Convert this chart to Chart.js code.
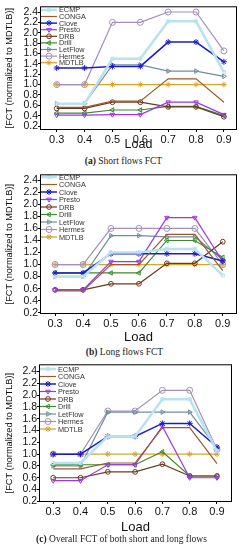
<!DOCTYPE html>
<html>
<head>
<meta charset="utf-8">
<script src="https://cdn.jsdelivr.net/npm/chart.js@4.4.1/dist/chart.umd.min.js"></script>
<style>
body { margin: 0; background: #fff; width: 243px; height: 550px; position: relative; overflow: hidden; }
.box { position: absolute; left: 0; width: 243px; }
.cap { position: absolute; left: 0; width: 243px; text-align: center; font-family: "Liberation Serif", serif; font-size: 9.5px; color: #222; line-height: 11px; }
</style>
</head>
<body>
<div class="box" style="top:0px;height:152px"><canvas id="chartA" width="243" height="152"></canvas></div>
<div class="cap" style="top:156px;left:2px"><b>(a)</b> Short flows FCT</div>
<div class="box" style="top:168px;height:177px"><canvas id="chartB" width="243" height="177"></canvas></div>
<div class="cap" style="top:347px;left:3px"><b>(b)</b> Long flows FCT</div>
<div class="box" style="top:358px;height:177px"><canvas id="chartC" width="243" height="177"></canvas></div>
<div class="cap" style="top:534px"><b>(c)</b> Overall FCT of both short and long flows</div>
<script>
// x categories and y ticks
const loads = [0.3, 0.4, 0.5, 0.6, 0.7, 0.8, 0.9];
const yTicks = [0.2, 0.4, 0.6, 0.8, 1.0, 1.2, 1.4, 1.6, 1.8, 2.0, 2.2, 2.4];
const schemes = ['ECMP', 'CONGA', 'Clove', 'Presto', 'DRB', 'Drill', 'LetFlow', 'Hermes', 'MDTLB'];

// (a) short flows
const ecmpA    = [0.63, 0.63, 1.50, 1.50, 2.22, 2.22, 1.24];
const congaA   = [0.56, 0.56, 0.68, 0.68, 1.11, 1.11, 0.66];
const cloveA   = [1.32, 1.32, 1.35, 1.35, 1.82, 1.82, 1.44];
const prestoA  = [0.41, 0.41, 0.42, 0.42, 0.66, 0.66, 0.42];
const drbA     = [0.54, 0.54, 0.66, 0.66, 0.57, 0.57, 0.38];
const drillA   = [0.45, 0.45, 0.51, 0.51, 0.58, 0.58, 0.40];
const letflowA = [0.63, 0.63, 1.38, 1.38, 1.26, 1.26, 1.16];
const hermesA  = [1.00, 1.00, 2.20, 2.20, 2.40, 2.40, 1.65];
const mdtlbA   = [1.00, 1.00, 1.00, 1.00, 1.00, 1.00, 1.00];

// (b) long flows
const ecmpB    = [0.80, 0.80, 1.20, 1.20, 1.26, 1.26, 0.82];
const congaB   = [0.56, 0.56, 1.00, 1.00, 1.50, 1.50, 0.90];
const cloveB   = [0.86, 0.86, 1.18, 1.18, 1.18, 1.18, 1.06];
const prestoB  = [0.58, 0.58, 1.05, 1.05, 1.78, 1.78, 1.05];
const drbB     = [0.58, 0.58, 0.68, 0.68, 1.02, 1.02, 1.38];
const drillB   = [0.86, 0.86, 0.86, 0.86, 1.40, 1.40, 1.12];
const letflowB = [0.80, 0.80, 1.48, 1.48, 1.46, 1.46, 1.08];
const hermesB  = [1.00, 1.00, 1.60, 1.60, 1.60, 1.60, 1.00];
const mdtlbB   = [1.00, 1.00, 1.00, 1.00, 1.00, 1.00, 1.00];

// (c) overall
const ecmpC    = [0.85, 0.85, 1.30, 1.30, 1.93, 1.93, 1.05];
const congaC   = [0.75, 0.75, 0.85, 0.85, 1.45, 1.45, 0.84];
const cloveC   = [1.00, 1.00, 1.30, 1.30, 1.52, 1.52, 1.12];
const prestoC  = [0.55, 0.55, 0.82, 0.82, 1.47, 0.60, 0.60];
const drbC     = [0.60, 0.60, 0.70, 0.70, 0.83, 0.63, 0.63];
const drillC   = [0.82, 0.82, 0.82, 0.82, 1.04, 0.63, 0.63];
const letflowC = [0.80, 0.80, 1.71, 1.71, 1.71, 1.71, 1.10];
const hermesC  = [1.00, 1.00, 1.73, 1.73, 2.08, 2.08, 1.08];
const mdtlbC   = [1.00, 1.00, 1.00, 1.00, 1.00, 1.00, 1.00];

// look of each scheme
const looks = [
  { color: '#b8e2f0', width: 2.5, shape: 'rect', r: 2.2, rot: 0 },
  { color: '#9a5a2a', width: 1.2, shape: 'circle', r: 0, rot: 0 },
  { color: '#1c1ccc', width: 1.5, shape: 'star', r: 3, rot: 0 },
  { color: '#9b35f0', width: 1.2, shape: 'triangle', r: 2.6, rot: 180 },
  { color: '#6b3a1f', width: 1.2, shape: 'circle', r: 2.4, rot: 0 },
  { color: '#3a8c2c', width: 1.2, shape: 'triangle', r: 2.6, rot: -90 },
  { color: '#6f8e9c', width: 1.2, shape: 'triangle', r: 2.6, rot: 90 },
  { color: '#a48fba', width: 1.2, shape: 'circle', r: 3, rot: 0 },
  { color: '#d6a52c', width: 1.3, shape: 'star', r: 2.8, rot: 0 }
];

const sansFont = '"Liberation Sans", Arial, sans-serif';

const frameBox = {
  id: 'frameBox',
  afterDraw(chart) {
    const a = chart.chartArea, ctx = chart.ctx;
    ctx.save();
    ctx.strokeStyle = '#000';
    ctx.lineWidth = 1;
    ctx.strokeRect(a.left + 0.5, a.top + 0.5, a.right - a.left - 1, a.bottom - a.top - 1);
    ctx.restore();
  }
};

const insideLegend = {
  id: 'insideLegend',
  afterDatasetsDraw(chart, args, opts) {
    const a = chart.chartArea, ctx = chart.ctx;
    ctx.save();
    ctx.font = '7.3px ' + sansFont;
    ctx.textBaseline = 'middle';
    chart.data.datasets.forEach((ds, i) => {
      const y = a.top + opts.first + i * opts.step;
      ctx.strokeStyle = ds.borderColor;
      ctx.lineWidth = ds.borderWidth;
      ctx.beginPath();
      ctx.moveTo(a.left + 1, y);
      ctx.lineTo(a.left + 17, y);
      ctx.stroke();
      if (ds.pointRadius > 0) {
        ctx.lineWidth = 1;
        ctx.fillStyle = 'rgba(255,255,255,0)';
        Chart.helpers.drawPoint(ctx, { pointStyle: ds.pointStyle, radius: ds.pointRadius, rotation: ds.pointRotation, borderWidth: 1 }, a.left + 9, y);
      }
      ctx.fillStyle = '#333';
      ctx.fillText(ds.label, a.left + 19, y + 0.5);
    });
    ctx.restore();
  }
};

function makeChart(id, values, g) {
  const datasets = schemes.map((name, i) => ({
    label: name,
    data: loads.map((x, j) => ({ x: x, y: values[i][j] })),
    borderColor: looks[i].color,
    borderWidth: looks[i].width,
    pointStyle: looks[i].shape,
    pointRadius: looks[i].r,
    pointRotation: looks[i].rot,
    pointBorderWidth: 1,
    pointBackgroundColor: 'rgba(255,255,255,0)',
    pointBorderColor: looks[i].color,
    tension: 0
  }));
  return new Chart(document.getElementById(id), {
    type: 'line',
    data: { datasets: datasets },
    plugins: [frameBox, insideLegend],
    options: {
      responsive: false,
      animation: false,
      layout: { padding: { top: g.padTop, right: g.padRight, left: 0, bottom: 0 } },
      plugins: {
        legend: { display: false },
        tooltip: { enabled: false },
        insideLegend: { first: g.legFirst, step: g.legStep }
      },
      scales: {
        x: {
          type: 'linear',
          min: g.xMin, max: g.xMax,
          afterBuildTicks: s => { s.ticks = loads.map(v => ({ value: v })); },
          afterFit: s => { s.height = g.xHeight; },
          grid: { display: true, drawOnChartArea: false, drawTicks: true, tickLength: 2, color: '#000' },
          border: { display: false },
          ticks: { color: '#111', padding: 1, autoSkip: false, maxRotation: 0, font: { family: sansFont, size: 11 }, callback: v => v.toFixed(1) },
          title: { display: true, text: 'Load', color: '#111', padding: 0, font: { family: sansFont, size: g.loadSize } }
        },
        y: {
          min: g.yMin, max: g.yMax,
          afterBuildTicks: s => { s.ticks = yTicks.map(v => ({ value: v })); },
          afterFit: s => { s.width = g.yWidth; },
          grid: { display: true, drawOnChartArea: false, drawTicks: true, tickLength: 2, color: '#000' },
          border: { display: false },
          ticks: { color: '#111', padding: 0, autoSkip: false, font: { family: sansFont, size: 10.5 }, callback: v => v.toFixed(1) },
          title: { display: true, text: '[FCT (normalized to MDTLB)]', color: '#111', padding: { top: 4, bottom: 0 }, font: { family: sansFont, size: 9.2 } }
        }
      }
    }
  });
}

makeChart('chartA', [ecmpA, congaA, cloveA, prestoA, drbA, drillA, letflowA, hermesA, mdtlbA],
  { padTop: 5, padRight: 6, yWidth: 40, xHeight: 22, xMin: 0.24, xMax: 0.947, yMin: 0.124, yMax: 2.51, legFirst: 3.6, legStep: 6.6, loadSize: 12.5 });
makeChart('chartB', [ecmpB, congaB, cloveB, prestoB, drbB, drillB, letflowB, hermesB, mdtlbB],
  { padTop: 6, padRight: 6, yWidth: 40, xHeight: 31, xMin: 0.246, xMax: 0.951, yMin: 0.178, yMax: 2.5, legFirst: 2.7, legStep: 7.5, loadSize: 13 });
makeChart('chartC', [ecmpC, congaC, cloveC, prestoC, drbC, drillC, letflowC, hermesC, mdtlbC],
  { padTop: 5, padRight: 11, yWidth: 39, xHeight: 33, xMin: 0.248, xMax: 0.955, yMin: 0.19, yMax: 2.52, legFirst: 4.7, legStep: 7.5, loadSize: 13 });
</script>
</body>
</html>
